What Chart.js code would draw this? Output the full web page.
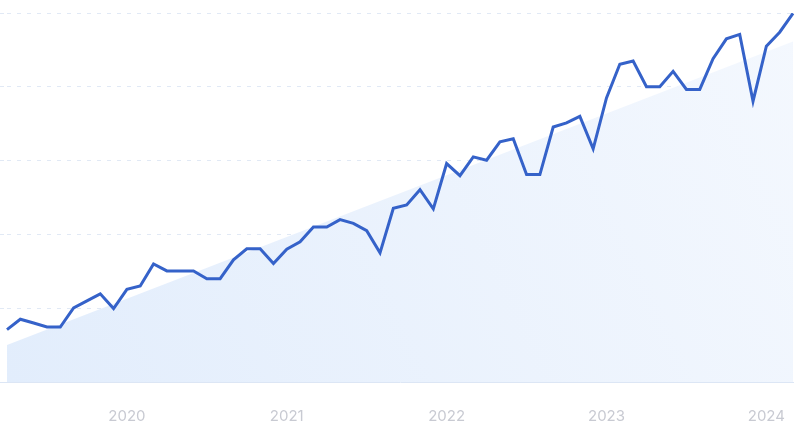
<!DOCTYPE html>
<html>
<head>
<meta charset="utf-8">
<script src="https://cdn.jsdelivr.net/npm/chart.js@4"></script>
<style>
  html, body { margin: 0; padding: 0; background: #ffffff; }
  #wrap { width: 799px; height: 426px; }
</style>
</head>
<body>
<div id="wrap"><canvas id="trendChart"></canvas></div>
<script>
// Monthly points, April 2019 .. March 2024
const months = [];
for (let y = 2019; y <= 2024; y++) {
    for (let m = 1; m <= 12; m++) {
        if ((y === 2019 && m < 4) || (y === 2024 && m > 3)) continue;
        months.push(y + '-' + String(m).padStart(2, '0'));
    }
}

const interest = [
    14.2, 17.0, 16.0, 14.9, 14.9, 20.1, 22.0, 23.9, 19.9,
    25.1, 26.0, 32.0, 30.1, 30.1, 30.1, 28.0, 28.0, 33.1, 36.1, 36.1, 32.1, 36.0,
    38.0, 42.0, 42.0, 44.0, 43.0, 41.0, 35.0, 47.1, 48.0, 52.1, 46.9, 59.2,
    55.9, 61.0, 60.1, 65.1, 65.9, 56.2, 56.2, 69.1, 70.2, 72.0, 63.2, 77.0,
    86.1, 87.0, 80.0, 80.0, 84.2, 79.3, 79.3, 87.6, 93.0, 94.2, 76.1, 91.0,
    94.8, 99.9
];

// Trend band: only the two end values, the rest is spanned
const trendStart = 10.0;
const trendEnd = 92.3;
const trend = months.map((_, i) => i === 0 ? trendStart : (i === months.length - 1 ? trendEnd : null));

const yTicks = [0, 20, 40, 60, 80, 100];

const ctx = document.getElementById('trendChart');

new Chart(ctx, {
    type: 'line',
    data: {
        labels: months,
        datasets: [
            {
                label: 'Interest',
                data: interest,
                borderColor: '#3562c9',
                borderWidth: 3,
                tension: 0,
                pointRadius: 0,
                fill: false,
                order: 0
            },
            {
                label: 'Trend',
                data: trend,
                spanGaps: true,
                borderWidth: 0,
                pointRadius: 0,
                fill: 'origin',
                backgroundColor: (c) => {
                    const area = c.chart.chartArea;
                    if (!area) return '#e8f1fd';
                    const g = c.chart.ctx.createLinearGradient(area.left, area.bottom, area.right, area.top);
                    g.addColorStop(0, '#e2edfc');
                    g.addColorStop(1, '#f4f8fe');
                    return g;
                },
                order: 1
            }
        ]
    },
    options: {
        responsive: true,
        maintainAspectRatio: false,
        animation: false,
        layout: {
            padding: { top: 13, right: 6, bottom: 0, left: 0 }
        },
        plugins: {
            legend: { display: false },
            tooltip: { enabled: false }
        },
        scales: {
            x: {
                afterFit: (axis) => { axis.height = 44; },
                grid: { display: false, drawTicks: false },
                border: { display: true, color: '#dce6f5', width: 1 },
                ticks: {
                    autoSkip: false,
                    maxRotation: 0,
                    padding: 0,
                    color: '#c8cad2',
                    font: { family: 'Inter', size: 15, lineHeight: '69px' },
                    callback: function (val) {
                        const lbl = this.getLabelForValue(val);
                        return lbl.endsWith('-01') ? lbl.slice(0, 4) : '';
                    }
                }
            },
            y: {
                min: yTicks[0],
                max: yTicks[yTicks.length - 1],
                afterBuildTicks: (axis) => { axis.ticks = yTicks.map(v => ({ value: v })); },
                afterFit: (axis) => { axis.width = 7; },
                border: { display: false, dash: [4, 6] },
                grid: {
                    color: (c) => c.tick.value === 0 ? 'rgba(0,0,0,0)' : '#e1e9f5',
                    drawTicks: true,
                    tickLength: 7,
                    tickColor: (c) => c.tick.value === 0 ? '#dce6f5' : '#e1e9f5',
                    tickBorderDash: (c) => c.tick.value === 0 ? [] : [4, 6]
                },
                ticks: { display: false }
            }
        }
    }
});
</script>
</body>
</html>
